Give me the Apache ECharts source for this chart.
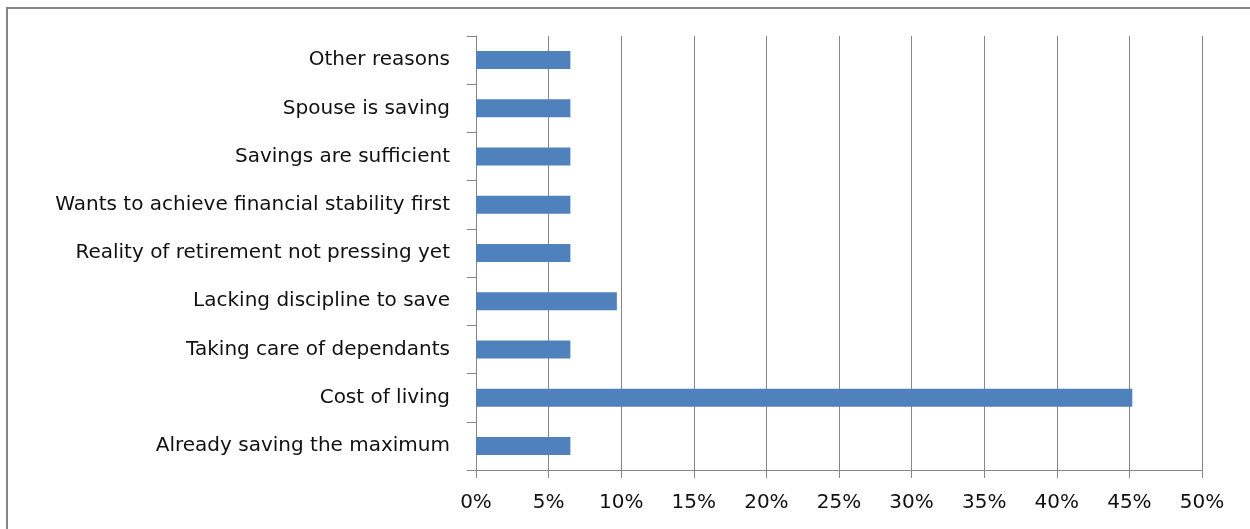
<!DOCTYPE html>
<html><head><meta charset="utf-8">
<script src="https://cdn.jsdelivr.net/npm/echarts@6/dist/echarts.min.js"></script>
<style>html,body{margin:0;padding:0;background:#fff;}#c{width:1250px;height:529px;position:relative;}
#b{position:absolute;left:6px;top:7px;width:1300px;height:600px;border:2px solid #868686;box-sizing:border-box;pointer-events:none;}</style>
</head><body><div id="c"></div><div id="b"></div>
<script>
const categories = ["Already saving the maximum","Cost of living","Taking care of dependants","Lacking discipline to save","Reality of retirement not pressing yet","Wants to achieve financial stability first","Savings are sufficient","Spouse is saving","Other reasons"];
const values = [6.5, 45.2, 6.5, 9.7, 6.5, 6.5, 6.5, 6.5, 6.5];
const chart = echarts.init(document.getElementById('c'), null, {renderer:'canvas'});
const font = "'DejaVu Sans', sans-serif";
chart.setOption({
  animation:false,
  grid:{left:476, right:48, top:36, bottom:59, containLabel:false},
  xAxis:{type:'value', min:0, max:50, interval:5,
    axisLine:{show:true, lineStyle:{color:'#868686', width:1}},
    axisTick:{show:true, length:8, lineStyle:{color:'#868686'}},
    splitLine:{show:true, lineStyle:{color:'#868686', width:1}},
    axisLabel:{formatter:'{value}%', color:'#111', fontSize:20, fontFamily:font, margin:23}
  },
  yAxis:{type:'category', data:categories,
    axisLine:{show:true, lineStyle:{color:'#868686', width:1}},
    axisTick:{show:true, length:9, lineStyle:{color:'#868686'}},
    axisLabel:{color:'#111', fontSize:20, fontFamily:font, margin:26}
  },
  series:[{type:'bar', data:values, barWidth:18, itemStyle:{color:'#4f81bd'}}]
});
</script></body></html>
